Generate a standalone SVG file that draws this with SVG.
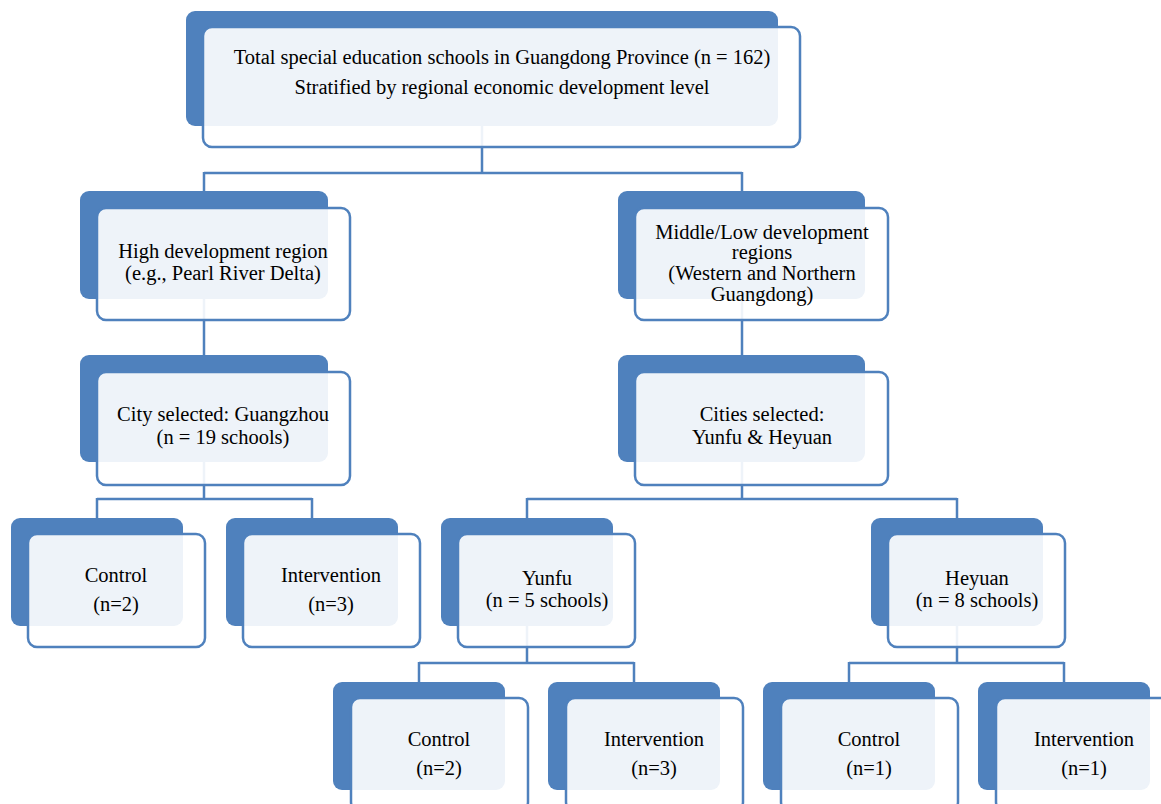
<svg xmlns="http://www.w3.org/2000/svg" width="1161" height="804" viewBox="0 0 1161 804">
<style>
.bk{fill:#4F81BD;}
.fr{fill:#FFFFFF;fill-opacity:0.9;stroke:#4F81BD;stroke-width:2.5;}
.cn{fill:none;stroke:#4F81BD;stroke-width:2.5;}
text{font-family:"Liberation Serif","Times New Roman",serif;font-size:20.5px;fill:#000;text-anchor:middle;}
</style>
<rect width="1161" height="804" fill="#FFFFFF"/>
<g id="connectors">
<path class="cn" d="M482,126V173M204,173H742M204,172V191M742,172V191"/>
<path class="cn" d="M204,299V355M742,299V355"/>
<path class="cn" d="M204,462V499M97,499H312M97,498V518M312,498V518"/>
<path class="cn" d="M742,462V499M527,499H957M527,498V518M957,498V518"/>
<path class="cn" d="M527,626V663M419,663H634M419,662V682M634,662V682"/>
<path class="cn" d="M957,626V663M849,663H1064M849,662V682M1064,662V682"/>
</g>
<g id="n-total">
<rect class="bk" x="186" y="11" width="592" height="115" rx="9"/>
<rect class="fr" x="203" y="27" width="597" height="120" rx="9"/>
<text x="502" y="64">Total special education schools in Guangdong Province (n = 162)</text>
<text x="502" y="94">Stratified by regional economic development level</text>
</g>
<g id="n-high">
<rect class="bk" x="80" y="191" width="248" height="108" rx="9"/>
<rect class="fr" x="97" y="208" width="253" height="112" rx="9"/>
<text x="223" y="258">High development region</text>
<text x="223" y="280">(e.g., Pearl River Delta)</text>
</g>
<g id="n-midlow">
<rect class="bk" x="618" y="191" width="247" height="108" rx="9"/>
<rect class="fr" x="635" y="208" width="253" height="112" rx="9"/>
<text x="762" y="239">Middle/Low development</text>
<text x="762" y="259">regions</text>
<text x="762" y="280">(Western and Northern</text>
<text x="762" y="301">Guangdong)</text>
</g>
<g id="n-guangzhou">
<rect class="bk" x="80" y="355" width="248" height="107" rx="9"/>
<rect class="fr" x="97" y="372" width="253" height="113" rx="9"/>
<text x="223" y="421">City selected: Guangzhou</text>
<text x="223" y="444">(n = 19 schools)</text>
</g>
<g id="n-cities">
<rect class="bk" x="618" y="355" width="247" height="107" rx="9"/>
<rect class="fr" x="635" y="372" width="253" height="113" rx="9"/>
<text x="762" y="421">Cities selected:</text>
<text x="762" y="444">Yunfu &amp; Heyuan</text>
</g>
<g id="n-gz-control">
<rect class="bk" x="11" y="518" width="172" height="108" rx="9"/>
<rect class="fr" x="28" y="534" width="177" height="113" rx="9"/>
<text x="116" y="582">Control</text>
<text x="116" y="611">(n=2)</text>
</g>
<g id="n-gz-intervention">
<rect class="bk" x="226" y="518" width="172" height="108" rx="9"/>
<rect class="fr" x="243" y="534" width="177" height="113" rx="9"/>
<text x="331" y="582">Intervention</text>
<text x="331" y="611">(n=3)</text>
</g>
<g id="n-yunfu">
<rect class="bk" x="441" y="518" width="172" height="108" rx="9"/>
<rect class="fr" x="458" y="534" width="177" height="113" rx="9"/>
<text x="547" y="585">Yunfu</text>
<text x="547" y="607">(n = 5 schools)</text>
</g>
<g id="n-heyuan">
<rect class="bk" x="871" y="518" width="172" height="108" rx="9"/>
<rect class="fr" x="888" y="534" width="177" height="113" rx="9"/>
<text x="977" y="585">Heyuan</text>
<text x="977" y="607">(n = 8 schools)</text>
</g>
<g id="n-yf-control">
<rect class="bk" x="333" y="682" width="172" height="108" rx="9"/>
<rect class="fr" x="351" y="698" width="177" height="113" rx="9"/>
<text x="439" y="746">Control</text>
<text x="439" y="775">(n=2)</text>
</g>
<g id="n-yf-intervention">
<rect class="bk" x="548" y="682" width="172" height="108" rx="9"/>
<rect class="fr" x="566" y="698" width="177" height="113" rx="9"/>
<text x="654" y="746">Intervention</text>
<text x="654" y="775">(n=3)</text>
</g>
<g id="n-hy-control">
<rect class="bk" x="763" y="682" width="172" height="108" rx="9"/>
<rect class="fr" x="781" y="698" width="177" height="113" rx="9"/>
<text x="869" y="746">Control</text>
<text x="869" y="775">(n=1)</text>
</g>
<g id="n-hy-intervention">
<rect class="bk" x="978" y="682" width="172" height="108" rx="9"/>
<rect class="fr" x="996" y="698" width="177" height="113" rx="9"/>
<text x="1084" y="746">Intervention</text>
<text x="1084" y="775">(n=1)</text>
</g>
</svg>
